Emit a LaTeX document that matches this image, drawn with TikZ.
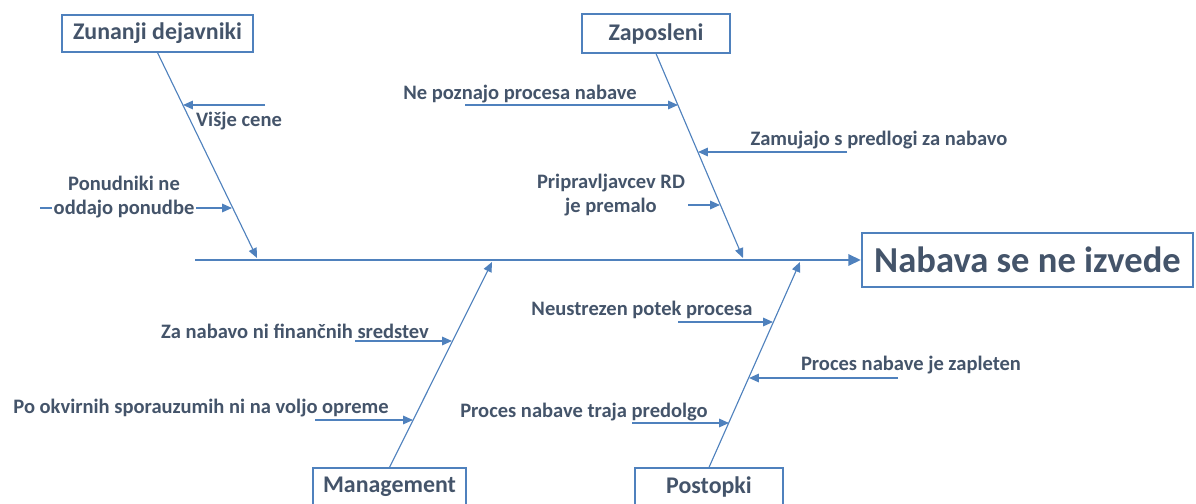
\documentclass[tikz,border=0pt]{standalone}
\usepackage{fontspec}
\setmainfont{Carlito}
\usetikzlibrary{arrows.meta}
\definecolor{bonecol}{RGB}{79,129,189}
\definecolor{txtcol}{RGB}{68,84,106}

\begin{document}
\begin{tikzpicture}[x=0.025cm,y=-0.025cm,>={Triangle[length=7pt,width=6pt]},
  cat/.style={draw=bonecol,line width=0.9pt,text=txtcol,inner sep=0pt,font=\bfseries\fontsize{17}{19}\selectfont},
  cause/.style={text=txtcol,align=center,inner sep=1pt,font=\bfseries\fontsize{14.6}{17}\selectfont},
  bone/.style={draw=bonecol,line width=0.8pt,->},
  sub/.style={draw=bonecol,line width=1.1pt,->}]
  \useasboundingbox (0,0) rectangle (1196,504);

  % categories and effect
  \node[cat,minimum width=4.775cm,minimum height=0.925cm] (zun) at (157.5,33.5) {Zunanji dejavniki};
  \node[cat,minimum width=3.7cm,minimum height=0.975cm] (zap) at (656,33.5) {Zaposleni};
  \node[cat,minimum width=3.825cm,minimum height=0.95cm] (man) at (389.5,487) {Management};
  \node[cat,minimum width=3.7cm,minimum height=0.95cm] (pos) at (709,487) {Postopki};
  \node[cat,line width=1.5pt,minimum width=8.275cm,minimum height=1.35cm,font=\bfseries\fontsize{26}{28}\selectfont] (nab) at (1027.5,260) {Nabava se ne izvede};

  % spine and bones
  \coordinate (tail) at (195,260);
  \coordinate (zunEnd) at (257,258);
  \coordinate (zapEnd) at (743,258);
  \coordinate (manEnd) at (492,262);
  \coordinate (posEnd) at (800,262);
  \draw[draw=bonecol,line width=1.8pt,->,>={Triangle[length=9pt,width=8pt]}] (tail) -- (nab.west);
  \draw[bone] (zun.south) -- (zunEnd);
  \draw[bone] (zap.south) -- (zapEnd);
  \draw[bone] (man.north) -- (manEnd);
  \draw[bone] (pos.north) -- (posEnd);

  % Zunanji dejavniki
  \coordinate (visS) at (265,105);
  \coordinate (visT) at (183,105);
  \draw[sub] (visS) -- (visT);
  \node[cause] (vis) at (239,121) {Višje cene};
  \coordinate (ponS) at (40,208);
  \coordinate (ponT) at (232,208);
  \draw[sub] (ponS) -- (ponT);
  \node[cause,fill=white] (pon) at (124,197) {Ponudniki ne\\oddajo ponudbe};

  % Zaposleni
  \coordinate (nepS) at (465,105);
  \coordinate (nepT) at (678,105);
  \draw[sub] (nepS) -- (nepT);
  \node[cause] (nep) at (520,94) {Ne poznajo procesa nabave};
  \coordinate (zamS) at (847,152);
  \coordinate (zamT) at (698,152);
  \draw[sub] (zamS) -- (zamT);
  \node[cause] (zam) at (879,140) {Zamujajo s predlogi za nabavo};
  \coordinate (priS) at (688,205);
  \coordinate (priT) at (720,205);
  \draw[sub] (priS) -- (priT);
  \node[cause] (pri) at (611,195) {Pripravljavcev RD\\je premalo};

  % Management
  \coordinate (finS) at (355,341);
  \coordinate (finT) at (452,341);
  \draw[sub] (finS) -- (finT);
  \node[cause] (fin) at (295,331) {Za nabavo ni finančnih sredstev};
  \coordinate (okvS) at (315,420);
  \coordinate (okvT) at (413,420);
  \draw[sub] (okvS) -- (okvT);
  \node[cause] (okv) at (201,408) {Po okvirnih sporauzumih ni na voljo opreme};

  % Postopki
  \coordinate (neuS) at (678,322);
  \coordinate (neuT) at (773,322);
  \draw[sub] (neuS) -- (neuT);
  \node[cause] (neu) at (642,310) {Neustrezen potek procesa};
  \coordinate (zapS) at (898,378);
  \coordinate (zapT) at (749,378);
  \draw[sub] (zapS) -- (zapT);
  \node[cause] (zpl) at (911,365) {Proces nabave je zapleten};
  \coordinate (preS) at (632,423);
  \coordinate (preT) at (729,423);
  \draw[sub] (preS) -- (preT);
  \node[cause] (pre) at (584,412) {Proces nabave traja predolgo};
\end{tikzpicture}
\end{document}
